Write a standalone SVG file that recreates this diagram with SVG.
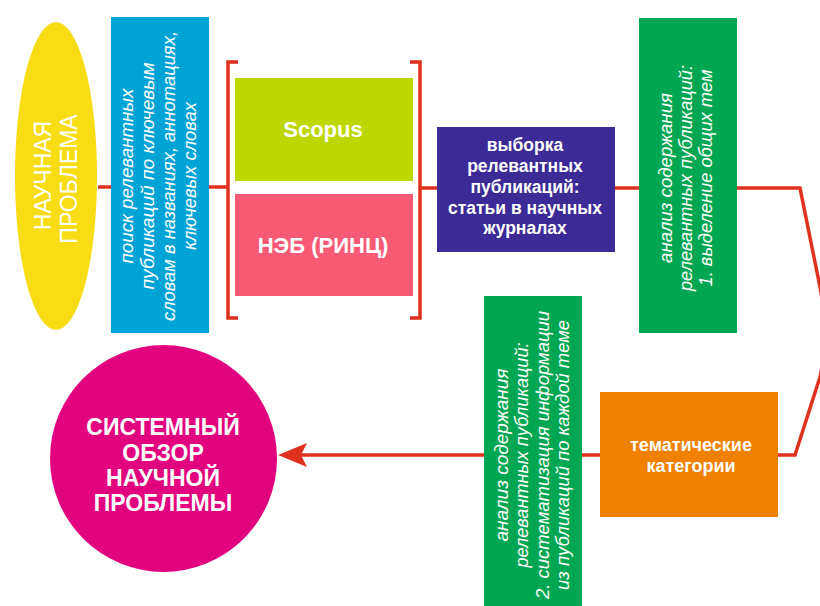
<svg xmlns="http://www.w3.org/2000/svg" width="820" height="606" viewBox="0 0 820 606">
<style>
text{font-family:"Liberation Sans",Arial,sans-serif;fill:#fff;text-anchor:middle}
.b{font-weight:bold}
.i{font-style:italic;font-size:18px}
.con{fill:none;stroke:#e0301e;stroke-width:3.5}
</style>
<rect width="820" height="606" fill="#fff"/>
<g id="connectors">
<line class="con" x1="98" y1="187" x2="228" y2="187"/>
<path class="con" d="M238,62 H228 V318 H238"/>
<path class="con" d="M410,62 H420 V318 H410"/>
<line class="con" x1="420" y1="188" x2="437" y2="188"/>
<line class="con" x1="615" y1="188" x2="640" y2="188"/>
<path class="con" d="M737,188 H800 L820,287 C826,318 826,350 820,377 L795,455 H777"/>
<line class="con" x1="600" y1="455" x2="582" y2="455"/>
<line class="con" x1="484" y1="455" x2="300" y2="455"/>
<path d="M278,455 L307,443 L301,455 L307,467 Z" fill="#e0301e"/>
</g>
<g id="n-problem">
<ellipse cx="56" cy="176" rx="41" ry="154" fill="#f8dc14"/>
<g transform="translate(0,177) rotate(-90)" font-size="23">
<text x="1.5" y="51">НАУЧНАЯ</text>
<text x="-2" y="77">ПРОБЛЕМА</text>
</g>
</g>
<g id="n-search">
<rect x="111" y="17" width="98" height="316" fill="#00a3d6"/>
<g transform="translate(0,176) rotate(-90)">
<text class="i" x="0" y="133" textLength="175" lengthAdjust="spacingAndGlyphs">поиск релевантных</text>
<text class="i" x="0" y="154" textLength="227" lengthAdjust="spacingAndGlyphs">публикаций по ключевым</text>
<text class="i" x="0" y="175" textLength="290" lengthAdjust="spacingAndGlyphs">словам в названиях, аннотациях,</text>
<text class="i" x="0" y="196" textLength="148" lengthAdjust="spacingAndGlyphs">ключевых словах</text>
</g>
</g>
<g id="n-scopus">
<rect x="235" y="78" width="178" height="103" fill="#bcd800"/>
<text class="b" x="323" y="137" font-size="22">Scopus</text>
</g>
<g id="n-neb">
<rect x="235" y="194" width="178" height="102" fill="#f75a75"/>
<text class="b" x="323" y="253" font-size="22">НЭБ (РИНЦ)</text>
</g>
<g id="n-selection">
<rect x="437" y="127" width="178" height="125" fill="#3c2a96"/>
<g class="b" font-size="17.5">
<text x="525" y="151">выборка</text>
<text x="525" y="172">релевантных</text>
<text x="525" y="193">публикаций:</text>
<text x="525" y="214">статьи в научных</text>
<text x="525" y="234">журналах</text>
</g>
</g>
<g id="n-analysis1">
<rect x="639" y="18" width="98" height="315" fill="#00a651"/>
<g transform="translate(0,178) rotate(-90)">
<text class="i" x="0" y="672" textLength="170" lengthAdjust="spacingAndGlyphs">анализ содержания</text>
<text class="i" x="0" y="692" textLength="226" lengthAdjust="spacingAndGlyphs">релевантных публикаций:</text>
<text class="i" x="0" y="712" textLength="217" lengthAdjust="spacingAndGlyphs">1. выделение общих тем</text>
</g>
</g>
<g id="n-categories">
<rect x="600" y="392" width="178" height="125" fill="#f08000"/>
<text class="b" x="691" y="451" font-size="18">тематические</text>
<text class="b" x="691" y="472" font-size="18">категории</text>
</g>
<g id="n-analysis2">
<rect x="484" y="296" width="98" height="312" fill="#00a651"/>
<g transform="translate(0,455) rotate(-90)">
<text class="i" x="0" y="508" textLength="173" lengthAdjust="spacingAndGlyphs">анализ содержания</text>
<text class="i" x="0" y="528" textLength="225" lengthAdjust="spacingAndGlyphs">релевантных публикаций:</text>
<text class="i" x="0" y="549" textLength="288" lengthAdjust="spacingAndGlyphs">2. систематизация информации</text>
<text class="i" x="0" y="569" textLength="270" lengthAdjust="spacingAndGlyphs">из публикаций по каждой теме</text>
</g>
</g>
<g id="n-review">
<circle cx="163.5" cy="458.5" r="113.5" fill="#e2047f"/>
<g class="b" font-size="23">
<text x="163" y="435">СИСТЕМНЫЙ</text>
<text x="163" y="461">ОБЗОР</text>
<text x="163" y="486">НАУЧНОЙ</text>
<text x="163" y="511">ПРОБЛЕМЫ</text>
</g>
</g>
</svg>
